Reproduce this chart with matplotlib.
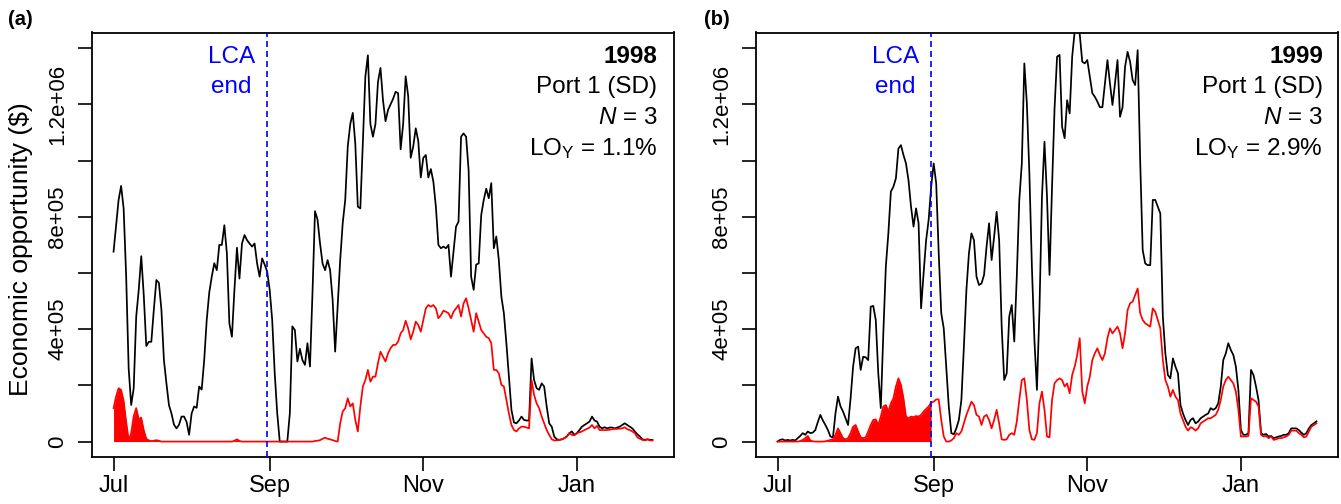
import numpy as np
import matplotlib
matplotlib.use("Agg")
import matplotlib.pyplot as plt
import matplotlib.dates as mdates
import matplotlib.transforms as mtransforms

plt.rcParams['font.family'] = ['Liberation Sans', 'DejaVu Sans']
plt.rcParams['mathtext.fontset'] = 'custom'
plt.rcParams['mathtext.rm'] = 'Liberation Sans'
plt.rcParams['mathtext.it'] = 'Liberation Sans:italic'
plt.rcParams['mathtext.bf'] = 'Liberation Sans:bold'
plt.rcParams['lines.scale_dashes'] = False

# ---------------- data (values in units of 1e5 $) ----------------
UNIT = 1e5

start_1998 = '1998-07-01'
start_1999 = '1999-07-01'
lca_end_1998 = '1998-08-31'
lca_end_1999 = '1999-08-31'

black_1998 = [
    6.76, 7.7, 8.6, 9.1, 8.3, 5.9, 2.6, 1.3, 1.9, 4.45,
    5.4, 6.6, 5.2, 3.4, 3.55, 3.55, 4.7, 5.75, 5.65, 4.7,
    2.9, 2.07, 1.3, 1.0, 0.6, 0.47, 0.6, 0.89, 0.89, 0.7,
    0.24, 1.0, 1.25, 1.2, 1.96, 1.85, 2.9, 4.33, 5.3, 5.87,
    6.35, 6.1, 7.0, 7.0, 7.7, 6.7, 4.2, 3.73, 5.4, 6.9,
    5.8, 7.05, 7.35, 7.17, 7.05, 6.94, 7.05, 6.34, 5.87, 6.52,
    6.3, 6.05, 5.4, 4.33, 2.43, 1.0, 0.0, 0.0, 0.0, 0.0,
    1.0, 4.1, 3.97, 2.85, 3.3, 2.9, 2.73, 3.5, 2.67, 5.3,
    8.2, 7.9, 7.05, 6.34, 6.1, 6.46, 6.1, 5.04, 3.2, 4.8,
    6.46, 7.77, 8.6, 10.5, 11.3, 11.7, 10.6, 8.36, 8.3, 10.6,
    13.0, 13.75, 11.3, 10.85, 11.3, 12.8, 13.3, 12.15, 11.4, 11.8,
    12.0, 12.2, 12.45, 12.4, 10.4, 11.3, 13.0, 12.3, 10.1, 10.5,
    11.15, 10.7, 9.4, 10.1, 10.2, 9.4, 9.7, 9.25, 8.36, 7.0,
    6.88, 6.94, 6.88, 7.0, 5.87, 6.76, 7.65, 7.83, 10.85, 10.97,
    10.85, 9.66, 5.87, 5.4, 6.3, 6.34, 8.06, 8.6, 9.0, 8.66,
    9.2, 6.88, 7.3, 6.46, 5.16, 4.57, 3.5, 2.3, 1.13, 0.68,
    0.65, 0.75, 0.89, 0.77, 0.75, 0.75, 2.96, 2.19, 1.9, 1.84,
    2.07, 1.96, 1.25, 0.65, 0.53, 0.18, 0.08, 0.06, 0.08, 0.12,
    0.18, 0.3, 0.36, 0.24, 0.3, 0.41, 0.53, 0.59, 0.65, 0.71,
    0.89, 0.75, 0.71, 0.53, 0.47, 0.51, 0.47, 0.5, 0.5, 0.47,
    0.5, 0.53, 0.59, 0.65, 0.59, 0.53, 0.47, 0.36, 0.26, 0.18,
    0.08, 0.06, 0.08, 0.06, 0.06,
]

red_1998 = [
    1.19, 1.6, 1.9, 1.84, 1.45, 0.7, 0.05, 0.3, 0.9, 1.19,
    0.8, 0.85, 0.4, 0.1, 0.04, 0.02, 0.03, 0.05, 0.03, 0.0,
    0.0, 0.0, 0.0, 0.0, 0.0, 0.0, 0.0, 0.0, 0.0, 0.0,
    0.0, 0.0, 0.0, 0.0, 0.0, 0.0, 0.0, 0.0, 0.0, 0.0,
    0.0, 0.0, 0.0, 0.0, 0.0, 0.0, 0.0, 0.0, 0.03, 0.08,
    0.02, 0.0, 0.0, 0.0, 0.0, 0.0, 0.0, 0.0, 0.0, 0.0,
    0.0, 0.0, 0.0, 0.0, 0.0, 0.0, 0.0, 0.0, 0.0, 0.0,
    0.0, 0.0, 0.0, 0.0, 0.0, 0.0, 0.0, 0.0, 0.0, 0.0,
    0.02, 0.03, 0.05, 0.1, 0.14, 0.1, 0.08, 0.05, 0.02, 0.0,
    0.65, 1.07, 1.19, 1.54, 1.25, 1.36, 0.77, 0.36, 1.25, 1.96,
    2.19, 2.55, 2.13, 2.31, 2.31, 2.79, 3.2, 3.02, 2.85, 3.14,
    3.32, 3.44, 3.44, 3.56, 3.85, 3.97, 4.3, 4.03, 3.64, 3.91,
    4.27, 4.15, 3.91, 4.33, 4.74, 4.86, 4.8, 4.86, 4.74, 4.39,
    4.5, 4.66, 4.62, 4.57, 4.39, 4.62, 4.74, 4.86, 4.45, 4.92,
    5.1, 4.74, 4.33, 3.91, 4.57, 4.27, 3.97, 3.85, 3.73, 3.68,
    3.5, 2.55, 2.55, 2.43, 2.02, 1.96, 1.48, 1.0, 0.59, 0.41,
    0.36, 0.47, 0.53, 0.53, 0.5, 0.47, 2.19, 1.66, 1.36, 1.19,
    0.89, 0.65, 0.41, 0.24, 0.08, 0.04, 0.04, 0.06, 0.08, 0.12,
    0.18, 0.3, 0.24, 0.22, 0.3, 0.33, 0.36, 0.41, 0.45, 0.5,
    0.59, 0.47, 0.56, 0.41, 0.41, 0.41, 0.41, 0.42, 0.44, 0.45,
    0.45, 0.46, 0.47, 0.51, 0.44, 0.41, 0.36, 0.3, 0.15, 0.1,
    0.06, 0.04, 0.08, 0.04, 0.04,
]

black_1999 = [
    0.0, 0.06, 0.08, 0.04, 0.06, 0.04, 0.06, 0.04, 0.12, 0.2,
    0.3, 0.24, 0.36, 0.3, 0.32, 0.41, 0.7, 0.95, 0.75, 0.59,
    0.41, 0.18, 0.15, 1.0, 1.6, 1.25, 1.07, 0.83, 0.59, 1.54,
    2.67, 3.32, 3.38, 2.55, 3.02, 3.0, 2.9, 4.8, 4.83, 4.33,
    2.43, 1.19, 3.85, 6.23, 7.41, 8.9, 9.07, 9.37, 10.43, 10.55,
    10.2, 9.9, 9.3, 8.36, 7.65, 8.3, 7.77, 4.74, 5.99, 7.17,
    7.89, 9.07, 9.9, 9.19, 6.7, 4.57, 4.03, 2.67, 1.25, 0.3,
    0.26, 0.47, 0.77, 1.48, 3.38, 5.4, 6.7, 7.41, 7.17, 5.87,
    5.57, 5.63, 5.93, 6.94, 7.77, 6.46, 7.29, 8.18, 7.17, 4.09,
    2.19, 2.43, 4.45, 4.86, 3.56, 5.87, 8.6, 9.9, 13.46, 12.04,
    9.55, 6.23, 3.62, 1.84, 4.68, 8.72, 10.67, 8.72, 5.93, 9.07,
    11.86, 13.7, 13.76, 11.2, 10.8, 12.15, 11.68, 13.7, 14.6, 14.7,
    14.5, 13.52, 13.46, 13.58, 12.98, 12.4, 12.27, 12.1, 11.9, 11.9,
    12.75, 13.58, 12.75, 11.98, 12.75, 13.58, 11.56, 11.9, 13.34, 13.87,
    13.52, 12.87, 12.69, 13.93, 10.0, 6.82, 6.34, 6.28, 6.28, 8.6,
    8.6, 8.36, 8.12, 4.45, 3.14, 2.37, 2.25, 2.96, 2.67, 2.43,
    1.3, 1.0, 0.77, 0.59, 0.77, 0.83, 0.65, 0.71, 0.83, 0.89,
    0.95, 1.0, 1.19, 1.13, 1.19, 1.36, 1.96, 2.9, 3.14, 3.5,
    3.26, 3.08, 2.67, 1.84, 0.41, 0.24, 0.24, 0.3, 2.55, 2.37,
    1.96, 1.48, 0.3, 0.24, 0.27, 0.18, 0.2, 0.12, 0.15, 0.18,
    0.2, 0.24, 0.24, 0.3, 0.47, 0.47, 0.47, 0.41, 0.32, 0.24,
    0.3, 0.47, 0.59, 0.65, 0.72,
]

red_1999 = [
    0.0, 0.0, 0.0, 0.0, 0.0, 0.0, 0.0, 0.0, 0.0, 0.02,
    0.06, 0.12, 0.2, 0.04, 0.01, 0.0, 0.0, 0.0, 0.0, 0.01,
    0.03, 0.06, 0.08, 0.24, 0.47, 0.3, 0.12, 0.08, 0.12, 0.3,
    0.53, 0.59, 0.36, 0.15, 0.12, 0.15, 0.36, 0.59, 0.77, 0.79,
    0.59, 0.89, 1.25, 1.3, 1.07, 1.36, 1.54, 1.96, 2.25, 2.02,
    1.54, 0.89, 0.83, 0.89, 0.87, 0.91, 0.89, 0.95, 1.07, 1.16,
    1.25, 1.39, 1.42, 1.5, 1.5, 0.77, 0.18, 0.0, 0.0, 0.04,
    0.12, 0.3, 0.24, 0.36, 0.65, 0.95, 1.19, 1.42, 1.3, 0.95,
    0.89, 0.59, 0.89, 0.95, 0.77, 0.47, 0.77, 1.13, 0.65, 0.08,
    0.06, 0.08, 0.24, 0.3, 0.24, 0.71, 1.48, 2.19, 2.25, 1.48,
    0.41, 0.08, 0.06, 0.3, 1.36, 1.78, 1.13, 0.18, 0.15, 1.48,
    2.07, 2.19, 2.25, 2.19, 1.96, 2.07, 1.72, 2.37, 2.67, 3.08,
    3.68, 1.78, 1.36, 1.96, 2.31, 2.9, 3.14, 3.32, 3.08, 2.9,
    3.14, 3.68, 4.03, 3.85, 3.97, 4.09, 3.85, 3.32, 3.85, 4.68,
    4.92, 4.98, 5.22, 5.45, 4.57, 4.33, 4.21, 4.15, 4.09, 4.74,
    4.62, 4.33, 4.03, 2.9, 2.19, 1.96, 1.6, 1.84, 1.6, 1.48,
    1.0, 0.77, 0.53, 0.39, 0.51, 0.47, 0.39, 0.47, 0.65, 0.71,
    0.77, 0.83, 0.83, 0.89, 0.95, 1.13, 1.48, 1.96, 2.19, 2.31,
    2.19, 2.07, 1.78, 1.13, 0.18, 0.18, 0.18, 0.2, 1.54, 1.48,
    1.42, 1.25, 0.24, 0.18, 0.2, 0.12, 0.18, 0.06, 0.08, 0.12,
    0.12, 0.15, 0.18, 0.24, 0.39, 0.39, 0.39, 0.3, 0.24, 0.15,
    0.18, 0.36, 0.53, 0.59, 0.65,
]

panel_letters = ['(a)', '(b)']
years = ['1998', '1999']
port_label = 'Port 1 (SD)'
n_label = r'$\mathit{N}$ = 3'
lo_values = ['1.1%', '2.9%']
y_ticks = [0, 2e5, 4e5, 6e5, 8e5, 1e6, 1.2e6, 1.4e6]
y_tick_labels = ['0', '', '4e+05', '', '8e+05', '', '1.2e+06', '']
y_max = 1.4e6
y_label = 'Economic opportunity ($)'
lca_text = 'LCA\nend'

# ---------------- figure ----------------
W, H = 1341, 504
fig = plt.figure(figsize=(W / 100, H / 100), dpi=100)

box_bottom, box_top = 457.3, 32.5
box_w = 582
lefts = [92, 756]
letter_x = [8, 704]
text_right = [657.5, 1323]

series = [
    (start_1998, lca_end_1998, black_1998, red_1998),
    (start_1999, lca_end_1999, black_1999, red_1999),
]

def frac_y(py):
    return (box_bottom - py) / (box_bottom - box_top)

for i, (start, lca, blk, red) in enumerate(series):
    ax = fig.add_axes([lefts[i] / W, (H - box_bottom) / H, box_w / W,
                       (box_bottom - box_top) / H])
    d_blk = np.datetime64(start) + np.arange(len(blk)).astype('timedelta64[D]')
    d_red = np.datetime64(start) + np.arange(len(red)).astype('timedelta64[D]')
    v_blk = np.array(blk) * UNIT
    v_red = np.array(red) * UNIT
    lca_d = np.datetime64(lca)

    ax.plot(d_blk, v_blk, color='black', lw=1.25, zorder=3)
    mask = d_red <= lca_d
    ax.fill_between(d_red[mask], 0, v_red[mask], color='#ff0000', lw=0, zorder=2)
    ax.plot(d_red, v_red, color='#ff0000', lw=1.25, zorder=4)
    ax.axvline(lca_d, color='#0000ff', lw=1.2, dashes=(4.3, 2.9), zorder=5)

    x0 = mdates.date2num(d_blk[0])
    x1 = mdates.date2num(d_blk[-1])
    r = x1 - x0
    ax.set_xlim(x0 - 0.04 * r, x1 + 0.04 * r)
    ax.set_ylim(-0.04 * y_max, 1.04 * y_max)

    ax.xaxis.set_major_locator(mdates.MonthLocator(bymonth=[1, 3, 5, 7, 9, 11]))
    ax.xaxis.set_major_formatter(mdates.DateFormatter('%b'))
    ax.set_yticks(y_ticks)
    ax.set_yticklabels(y_tick_labels, rotation=90, va='center')

    for s in ax.spines.values():
        s.set_linewidth(1.3)
    ax.tick_params(axis='both', direction='out', length=10, width=1.2,
                   color='black')
    ax.tick_params(axis='x', labelsize=17, pad=3)
    ax.tick_params(axis='y', labelsize=16, pad=7)

    # annotations in the upper-right corner
    xr = (text_right[i] - lefts[i]) / box_w
    ax.text(xr, frac_y(63.3), years[i], transform=ax.transAxes, ha='right',
            va='baseline', fontsize=17.5, fontweight='bold')
    ax.text(xr, frac_y(93.3), port_label, transform=ax.transAxes, ha='right',
            va='baseline', fontsize=17.5)
    ax.text(xr, frac_y(124.3), n_label, transform=ax.transAxes, ha='right',
            va='baseline', fontsize=17.5)
    ax.text(xr, frac_y(155), r'LO$_{\mathrm{Y}}$ = ' + lo_values[i],
            transform=ax.transAxes, ha='right', va='baseline', fontsize=17.5)

    # LCA end label
    trans = mtransforms.blended_transform_factory(ax.transData, ax.transAxes)
    lca_num = mdates.date2num(lca_d)
    for txt, py in zip(lca_text.split('\n'), [63.3, 93.3]):
        ax.annotate(txt, xy=(lca_num, frac_y(py)), xycoords=trans,
                    xytext=(-36 * 0.72, 0), textcoords='offset points',
                    ha='center', va='baseline', fontsize=17.5, color='#0000ff')

    fig.text(letter_x[i] / W, 1 - 25 / H, panel_letters[i], ha='left',
             va='baseline', fontsize=14.5, fontweight='bold')

fig.text(21.5 / W, 1 - 249 / H, y_label, rotation=90, ha='center', va='center',
         fontsize=19)

fig.savefig('out.png', dpi=100)
